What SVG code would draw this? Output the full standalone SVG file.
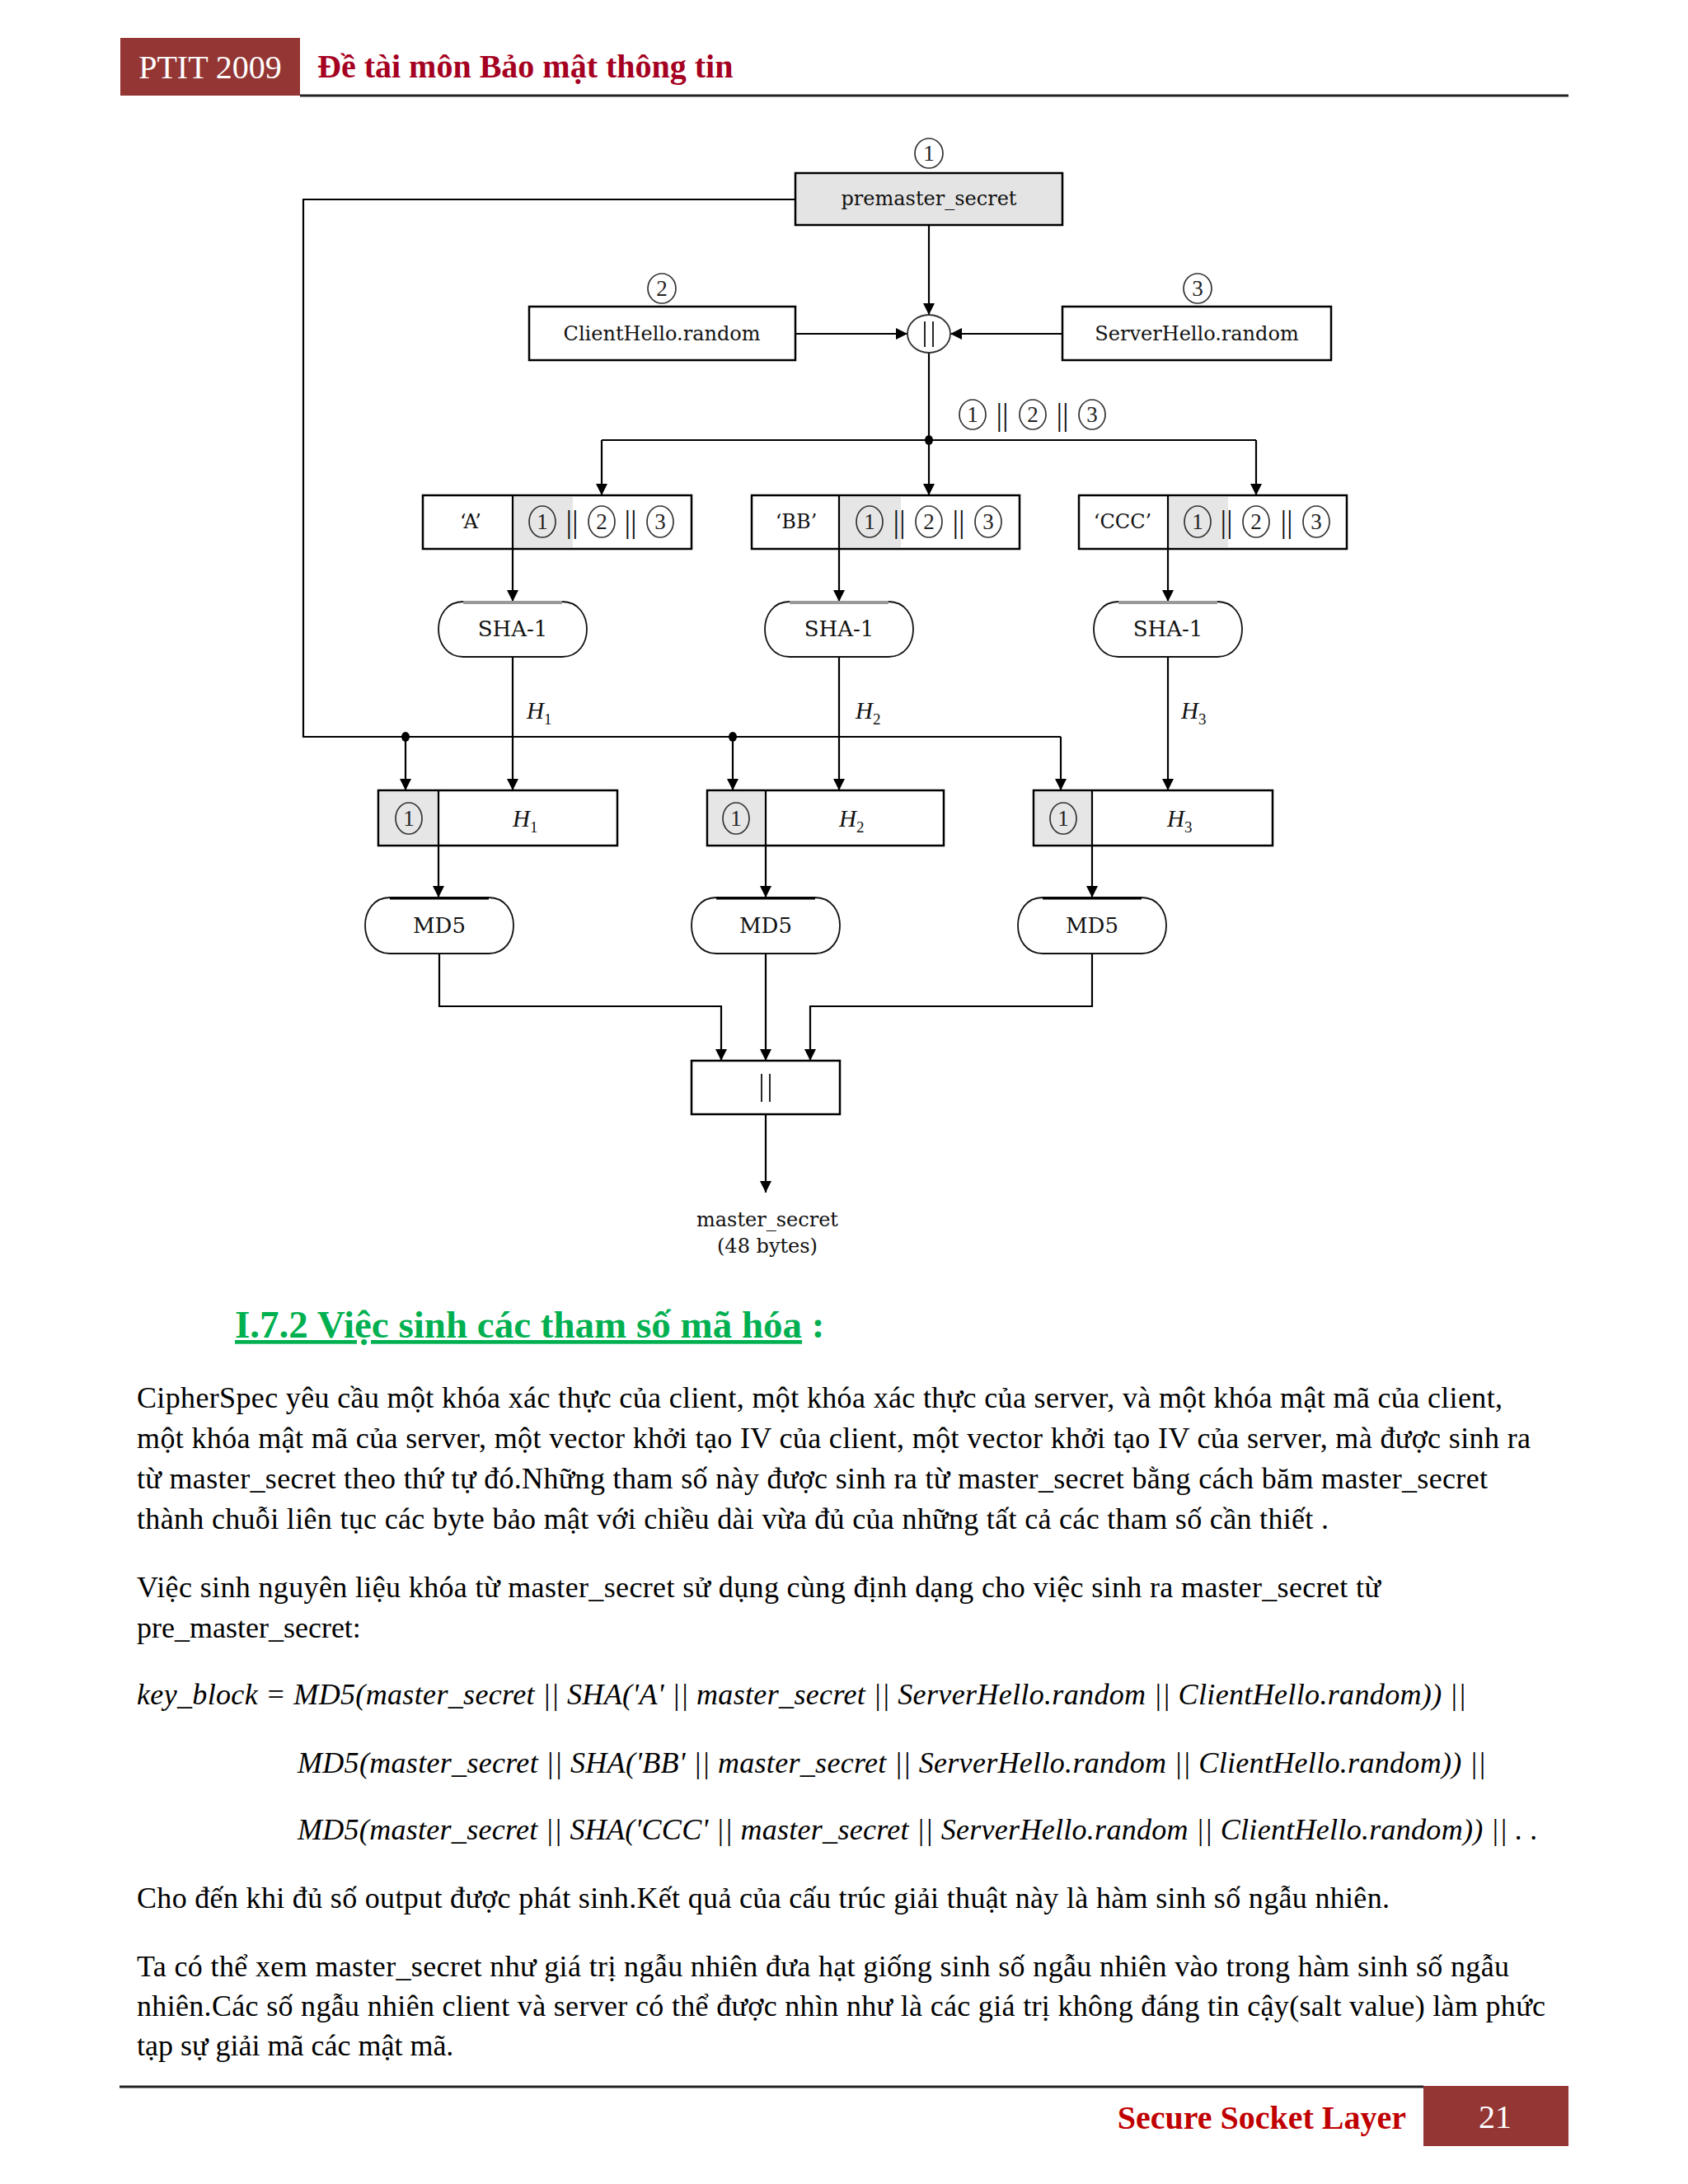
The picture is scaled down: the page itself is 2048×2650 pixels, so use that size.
<svg xmlns="http://www.w3.org/2000/svg" width="2048" height="2650" viewBox="0 0 2048 2650">
<style>
.lbl{font-family:"DejaVu Serif","Liberation Serif",serif;font-size:24px;fill:#111;text-anchor:middle}
.big{font-size:26px}
.bars{font-family:"Liberation Serif",serif;font-size:38px;fill:#111;text-anchor:middle}
.num{font-family:"Liberation Serif",serif;font-size:27px;fill:#222;text-anchor:middle}
.cn{fill:none;stroke:#333;stroke-width:1.7}
.box{fill:#fff;stroke:#000;stroke-width:2.5}
.gray{fill:#e6e6e6;stroke:none}
.shape{fill:#fff;stroke:#111;stroke-width:1.8}
.ln{fill:none;stroke:#000;stroke-width:2.2}
.arr{fill:none;stroke:#000;stroke-width:2.2;marker-end:url(#ah)}
.hv{font-family:"Liberation Serif",serif;font-style:italic;font-size:29px;fill:#111}
.sub{font-style:normal;font-size:19px}
.body{font-family:"Liberation Serif","Times New Roman",serif;font-size:36px;fill:#000}
.it{font-style:italic}
.bar{stroke:#111;stroke-width:1.8}
</style>
<defs>
<marker id="ah" markerUnits="userSpaceOnUse" viewBox="0 0 14 14" markerWidth="14" markerHeight="14" refX="14" refY="7" orient="auto">
<path d="M0,0 L14,7 L0,14 Z" fill="#000"/>
</marker>
</defs>

<!-- header -->
<g id="header">
<rect x="146" y="46" width="218" height="70" fill="#943634"/>
<text x="255" y="95" font-family="Liberation Serif, serif" font-size="40" fill="#fff" text-anchor="middle">PTIT 2009</text>
<text x="385" y="94" font-family="Liberation Serif, serif" font-size="40" font-weight="bold" fill="#A50021">Đề tài môn Bảo mật thông tin</text>
<line x1="364" y1="116" x2="1903" y2="116" stroke="#222" stroke-width="3"/>
</g>

<!-- connectors -->
<g id="connectors">
<line class="arr" x1="1127" y1="273" x2="1127" y2="382"/>
<line class="arr" x1="965" y1="405" x2="1101" y2="405"/>
<line class="arr" x1="1615" y1="405" x2="1153" y2="405"/>
<line class="ln" x1="1127" y1="428" x2="1127" y2="534"/>
<line class="ln" x1="730" y1="534" x2="1524" y2="534"/>
<line class="arr" x1="730" y1="534" x2="730" y2="601"/>
<line class="arr" x1="1127" y1="534" x2="1127" y2="601"/>
<line class="arr" x1="1524" y1="534" x2="1524" y2="601"/>
<ellipse cx="1127" cy="534" rx="5" ry="6" fill="#000"/>
<polyline class="ln" points="965,242 368,242 368,894 1287,894"/>
<line class="arr" x1="1287" y1="894" x2="1287" y2="959"/>
<line class="arr" x1="492" y1="894" x2="492" y2="959"/>
<line class="arr" x1="889" y1="894" x2="889" y2="959"/>
<ellipse cx="492" cy="894" rx="5" ry="6" fill="#000"/>
<ellipse cx="889" cy="894" rx="5" ry="6" fill="#000"/>
<line class="arr" x1="622" y1="666" x2="622" y2="730"/>
<line class="arr" x1="1018" y1="666" x2="1018" y2="730"/>
<line class="arr" x1="1417" y1="666" x2="1417" y2="730"/>
<line class="arr" x1="622" y1="797" x2="622" y2="959"/>
<line class="arr" x1="1018" y1="797" x2="1018" y2="959"/>
<line class="arr" x1="1417" y1="797" x2="1417" y2="959"/>
<text class="hv" x="639" y="872">H<tspan class="sub" dy="7">1</tspan></text>
<text class="hv" x="1038" y="872">H<tspan class="sub" dy="7">2</tspan></text>
<text class="hv" x="1433" y="872">H<tspan class="sub" dy="7">3</tspan></text>
<line class="arr" x1="532" y1="1026" x2="532" y2="1089"/>
<line class="arr" x1="929" y1="1026" x2="929" y2="1089"/>
<line class="arr" x1="1325" y1="1026" x2="1325" y2="1089"/>
<polyline class="arr" points="533,1157 533,1221 875,1221 875,1287"/>
<line class="arr" x1="929" y1="1157" x2="929" y2="1287"/>
<polyline class="arr" points="1325,1157 1325,1221 983,1221 983,1287"/>
<line class="arr" x1="929" y1="1352" x2="929" y2="1447"/>
</g>

<!-- label 1||2||3 -->
<g id="concat-label">
<ellipse class="cn" cx="1180" cy="503" rx="16" ry="18"/><text class="num" x="1180" y="512">1</text>
<text class="bars" x="1216" y="516">||</text>
<ellipse class="cn" cx="1253" cy="503" rx="16" ry="18"/><text class="num" x="1253" y="512">2</text>
<text class="bars" x="1289" y="516">||</text>
<ellipse class="cn" cx="1325" cy="503" rx="16" ry="18"/><text class="num" x="1325" y="512">3</text>
</g>

<g id="premaster">
<ellipse class="cn" cx="1127" cy="186" rx="17" ry="18"/><text class="num" x="1127" y="195">1</text>
<rect x="965" y="210" width="324" height="63" fill="#e4e4e4" stroke="#000" stroke-width="2.5"/>
<text class="lbl" x="1127" y="249">premaster_secret</text>
</g>

<g id="clienthello">
<ellipse class="cn" cx="803" cy="350" rx="17" ry="18"/><text class="num" x="803" y="359">2</text>
<rect class="box" x="642" y="372" width="323" height="65"/>
<text class="lbl" x="803" y="413">ClientHello.random</text>
</g>

<g id="serverhello">
<ellipse class="cn" cx="1453" cy="350" rx="17" ry="18"/><text class="num" x="1453" y="359">3</text>
<rect class="box" x="1289" y="372" width="326" height="65"/>
<text class="lbl" x="1452" y="413">ServerHello.random</text>
</g>

<g id="concat1">
<ellipse cx="1127" cy="405" rx="26" ry="23" fill="#fff" stroke="#333" stroke-width="1.8"/>
<line class="bar" x1="1122" y1="390" x2="1122" y2="421"/>
<line class="bar" x1="1132" y1="390" x2="1132" y2="421"/>
</g>

<g id="boxA">
<rect class="box" x="513" y="601" width="326" height="65"/>
<rect class="gray" x="623" y="603" width="72" height="61"/>
<line class="ln" x1="622" y1="601" x2="622" y2="666"/>
<text class="lbl" x="571" y="641">‘A’</text>
<ellipse class="cn" cx="658" cy="633" rx="16" ry="19"/><text class="num" x="658" y="642">1</text>
<text class="bars" x="694" y="646">||</text>
<ellipse class="cn" cx="730" cy="633" rx="16" ry="19"/><text class="num" x="730" y="642">2</text>
<text class="bars" x="765" y="646">||</text>
<ellipse class="cn" cx="801" cy="633" rx="16" ry="19"/><text class="num" x="801" y="642">3</text>
</g>

<g id="boxBB">
<rect class="box" x="912" y="601" width="325" height="65"/>
<rect class="gray" x="1019" y="603" width="74" height="61"/>
<line class="ln" x1="1018" y1="601" x2="1018" y2="666"/>
<text class="lbl" x="966" y="641">‘BB’</text>
<ellipse class="cn" cx="1055" cy="633" rx="16" ry="19"/><text class="num" x="1055" y="642">1</text>
<text class="bars" x="1091" y="646">||</text>
<ellipse class="cn" cx="1127" cy="633" rx="16" ry="19"/><text class="num" x="1127" y="642">2</text>
<text class="bars" x="1163" y="646">||</text>
<ellipse class="cn" cx="1199" cy="633" rx="16" ry="19"/><text class="num" x="1199" y="642">3</text>
</g>

<g id="boxCCC">
<rect class="box" x="1309" y="601" width="325" height="65"/>
<rect class="gray" x="1418" y="603" width="72" height="61"/>
<line class="ln" x1="1417" y1="601" x2="1417" y2="666"/>
<text class="lbl" x="1362" y="641">‘CCC’</text>
<ellipse class="cn" cx="1453" cy="633" rx="16" ry="19"/><text class="num" x="1453" y="642">1</text>
<text class="bars" x="1488" y="646">||</text>
<ellipse class="cn" cx="1524" cy="633" rx="16" ry="19"/><text class="num" x="1524" y="642">2</text>
<text class="bars" x="1561" y="646">||</text>
<ellipse class="cn" cx="1597" cy="633" rx="16" ry="19"/><text class="num" x="1597" y="642">3</text>
</g>

<g id="sha1">
<path class="shape" d="M562,730 H682 C722,730 722,797 682,797 H562 C522,797 522,730 562,730 Z"/>
<line x1="562" y1="731" x2="682" y2="731" stroke="#999" stroke-width="4"/>
<text class="lbl big" x="622" y="772">SHA-1</text>
</g>
<g id="sha2">
<path class="shape" d="M958,730 H1078 C1118,730 1118,797 1078,797 H958 C918,797 918,730 958,730 Z"/>
<line x1="958" y1="731" x2="1078" y2="731" stroke="#999" stroke-width="4"/>
<text class="lbl big" x="1018" y="772">SHA-1</text>
</g>
<g id="sha3">
<path class="shape" d="M1357,730 H1477 C1517,730 1517,797 1477,797 H1357 C1317,797 1317,730 1357,730 Z"/>
<line x1="1357" y1="731" x2="1477" y2="731" stroke="#999" stroke-width="4"/>
<text class="lbl big" x="1417" y="772">SHA-1</text>
</g>

<g id="boxH1">
<rect class="box" x="459" y="959" width="290" height="67"/>
<rect class="gray" x="461" y="961" width="71" height="63"/>
<line class="ln" x1="532" y1="959" x2="532" y2="1026"/>
<ellipse class="cn" cx="496" cy="993" rx="16" ry="19"/><text class="num" x="496" y="1002">1</text>
<text class="hv" x="622" y="1003">H<tspan class="sub" dy="7">1</tspan></text>
</g>
<g id="boxH2">
<rect class="box" x="858" y="959" width="287" height="67"/>
<rect class="gray" x="860" y="961" width="69" height="63"/>
<line class="ln" x1="929" y1="959" x2="929" y2="1026"/>
<ellipse class="cn" cx="893" cy="993" rx="16" ry="19"/><text class="num" x="893" y="1002">1</text>
<text class="hv" x="1018" y="1003">H<tspan class="sub" dy="7">2</tspan></text>
</g>
<g id="boxH3">
<rect class="box" x="1254" y="959" width="290" height="67"/>
<rect class="gray" x="1256" y="961" width="69" height="63"/>
<line class="ln" x1="1325" y1="959" x2="1325" y2="1026"/>
<ellipse class="cn" cx="1290" cy="993" rx="16" ry="19"/><text class="num" x="1290" y="1002">1</text>
<text class="hv" x="1416" y="1003">H<tspan class="sub" dy="7">3</tspan></text>
</g>

<g id="md5a">
<path class="shape" d="M473,1089 H593 C633,1089 633,1157 593,1157 H473 C433,1157 433,1089 473,1089 Z"/>
<line x1="473" y1="1090" x2="593" y2="1090" stroke="#000" stroke-width="3"/>
<text class="lbl big" x="533" y="1132">MD5</text>
</g>
<g id="md5b">
<path class="shape" d="M869,1089 H989 C1029,1089 1029,1157 989,1157 H869 C829,1157 829,1089 869,1089 Z"/>
<line x1="869" y1="1090" x2="989" y2="1090" stroke="#000" stroke-width="3"/>
<text class="lbl big" x="929" y="1132">MD5</text>
</g>
<g id="md5c">
<path class="shape" d="M1265,1089 H1385 C1425,1089 1425,1157 1385,1157 H1265 C1225,1157 1225,1089 1265,1089 Z"/>
<line x1="1265" y1="1090" x2="1385" y2="1090" stroke="#000" stroke-width="3"/>
<text class="lbl big" x="1325" y="1132">MD5</text>
</g>

<g id="concat2">
<rect class="box" x="839" y="1287" width="180" height="65"/>
<line class="bar" x1="924" y1="1303" x2="924" y2="1337"/>
<line class="bar" x1="934" y1="1303" x2="934" y2="1337"/>
</g>

<g id="master">
<text class="lbl" x="931" y="1488" font-size="23">master_secret</text>
<text class="lbl" x="931" y="1520" font-size="23">(48 bytes)</text>
</g>

<!-- text section -->
<g id="text">
<text x="285" y="1623" font-family="Liberation Serif, serif" font-size="47" font-weight="bold" fill="#00B050"><tspan text-decoration="underline">I.7.2 Việc sinh các tham số mã hóa</tspan> :</text>
<text class="body" x="166" y="1708" textLength="1657" lengthAdjust="spacing">CipherSpec yêu cầu một khóa xác thực của client, một khóa xác thực của server, và một khóa mật mã của client,</text>
<text class="body" x="166" y="1757" textLength="1691" lengthAdjust="spacing">một khóa mật mã của server, một vector khởi tạo IV của client, một vector khởi tạo IV của server, mà được sinh ra</text>
<text class="body" x="166" y="1806" textLength="1639" lengthAdjust="spacing">từ master_secret theo thứ tự đó.Những tham số này được sinh ra từ master_secret bằng cách băm master_secret</text>
<text class="body" x="166" y="1855" textLength="1446" lengthAdjust="spacing">thành chuỗi liên tục các byte bảo mật với chiều dài vừa đủ của những tất cả các tham số cần thiết .</text>
<text class="body" x="166" y="1938" textLength="1509" lengthAdjust="spacing">Việc sinh nguyên liệu khóa từ master_secret sử dụng cùng định dạng cho việc sinh ra master_secret từ</text>
<text class="body" x="166" y="1987">pre_master_secret:</text>
<text class="body it" x="166" y="2068" textLength="1613" lengthAdjust="spacing">key_block = MD5(master_secret || SHA('A' || master_secret || ServerHello.random || ClientHello.random)) ||</text>
<text class="body it" x="361" y="2151" textLength="1442" lengthAdjust="spacing">MD5(master_secret || SHA('BB' || master_secret || ServerHello.random || ClientHello.random)) ||</text>
<text class="body it" x="361" y="2232" textLength="1505" lengthAdjust="spacing">MD5(master_secret || SHA('CCC' || master_secret || ServerHello.random || ClientHello.random)) || . .</text>
<text class="body" x="166" y="2315" textLength="1520" lengthAdjust="spacing">Cho đến khi đủ số output được phát sinh.Kết quả của cấu trúc giải thuật này là hàm sinh số ngẫu nhiên.</text>
<text class="body" x="166" y="2398" textLength="1665" lengthAdjust="spacing">Ta có thể xem master_secret như giá trị ngẫu nhiên đưa hạt giống sinh số ngẫu nhiên vào trong hàm sinh số ngẫu</text>
<text class="body" x="166" y="2446" textLength="1709" lengthAdjust="spacing">nhiên.Các số ngẫu nhiên client và server có thể được nhìn như là các giá trị không đáng tin cậy(salt value) làm phức</text>
<text class="body" x="166" y="2494">tạp sự giải mã các mật mã.</text>
</g>

<!-- footer -->
<g id="footer">
<line x1="145" y1="2532" x2="1727" y2="2532" stroke="#222" stroke-width="3"/>
<rect x="1727" y="2531" width="176" height="73" fill="#943634"/>
<text x="1814" y="2582" font-family="Liberation Serif, serif" font-size="40" fill="#fff" text-anchor="middle">21</text>
<text x="1706" y="2583" font-family="Liberation Serif, serif" font-size="40" font-weight="bold" fill="#C00000" text-anchor="end">Secure Socket Layer</text>
</g>
</svg>
